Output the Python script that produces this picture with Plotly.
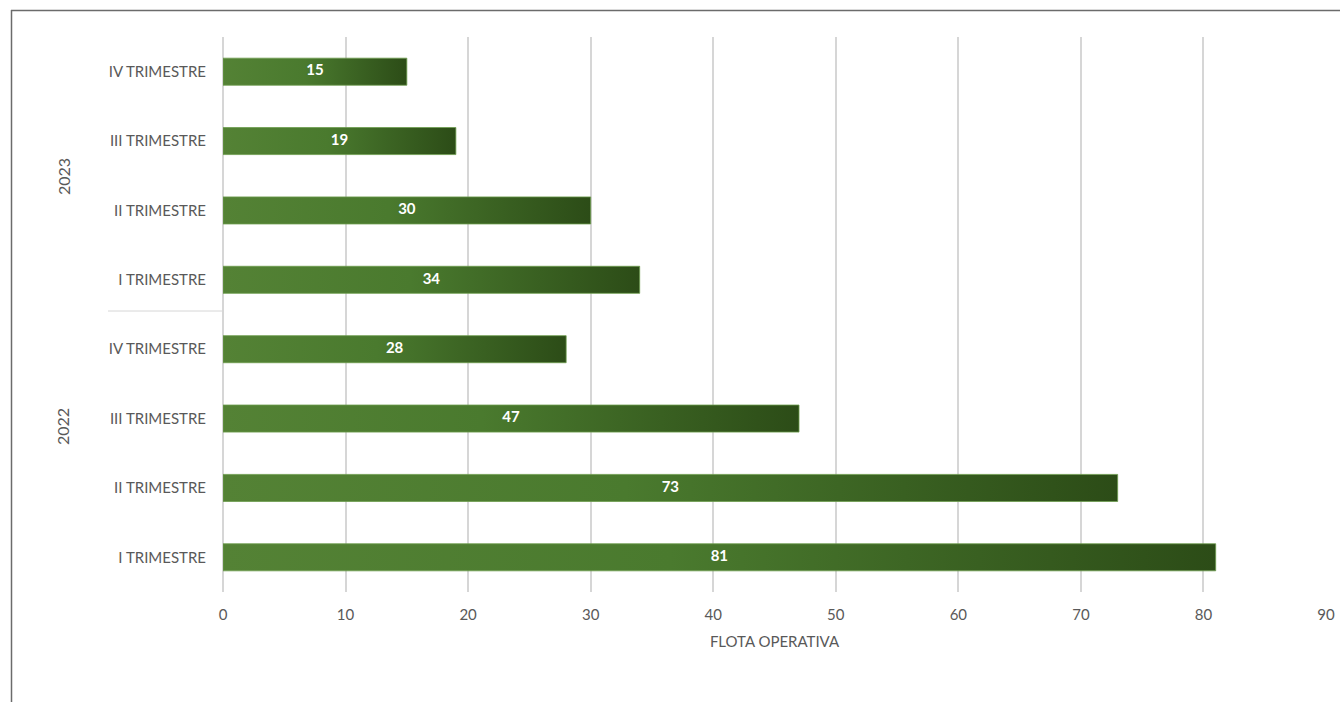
import plotly.graph_objects as go

years = ["2022", "2023"]
quarters = ["I TRIMESTRE", "II TRIMESTRE", "III TRIMESTRE", "IV TRIMESTRE"]
values_2022 = [81, 73, 47, 28]
values_2023 = [34, 30, 19, 15]
x_ticks = [0, 10, 20, 30, 40, 50, 60, 70, 80, 90]
x_title = "FLOTA OPERATIVA"

labels = quarters + quarters
values = values_2022 + values_2023
positions = list(range(len(values)))

FONT = "Lato"
GRAY = "#595959"
half = 0.195

fig = go.Figure()
for pos, v in zip(positions, values):
    fig.add_trace(go.Scatter(
        x=[0, v, v, 0, 0],
        y=[pos - half, pos - half, pos + half, pos + half, pos - half],
        mode="lines",
        fill="toself",
        fillgradient=dict(type="horizontal",
                          colorscale=[[0, "#548235"], [0.45, "#4a7a2e"], [1, "#2c4c17"]]),
        line=dict(color="#6c9c4c", width=0.8),
        hoverinfo="skip",
        showlegend=False,
    ))

fig.add_trace(go.Scatter(
    x=[v / 2 for v in values],
    y=positions,
    mode="text",
    text=[str(v) for v in values],
    textfont=dict(family=FONT, size=15, color="white", weight="bold"),
    hovertext=[f"{l}: {v}" for l, v in zip(labels, values)],
    hoverinfo="text",
    showlegend=False,
))

fig.update_layout(
    width=1340, height=702,
    margin=dict(l=223, r=14, t=37, b=110, autoexpand=False),
    plot_bgcolor="white", paper_bgcolor="white",
    font=dict(family=FONT, size=15, color=GRAY),
    xaxis=dict(range=[0, 90], tickvals=x_ticks, showgrid=True, gridcolor="#d6d6d6",
               gridwidth=1.5, zeroline=True, zerolinecolor="#d6d6d6", zerolinewidth=1.5,
               showline=False, ticks="", ticklabelstandoff=12, automargin=False,
               tickfont=dict(size=15, color=GRAY),
               title=dict(text=x_title, font=dict(size=15, color=GRAY), standoff=14),
               fixedrange=True),
    yaxis=dict(range=[-0.5, 7.5], tickvals=positions, ticktext=labels, showgrid=False,
               zeroline=False, showline=False, ticks="", ticklabelstandoff=16,
               automargin=False, tickfont=dict(size=15, color=GRAY), fixedrange=True),
)

# year group labels
for yr, ypx in [(years[1], 177), (years[0], 427)]:
    fig.add_annotation(text=yr, xref="paper", yref="paper", x=(63 - 223) / 1103,
                       y=(592 - ypx) / 555, xanchor="center", yanchor="middle",
                       showarrow=False, textangle=-90,
                       font=dict(family=FONT, size=16, color=GRAY))
# group divider
fig.add_shape(type="line", xref="paper", yref="paper", x0=(108 - 223) / 1103, x1=0,
              y0=(592 - 311) / 555, y1=(592 - 311) / 555,
              line=dict(color="#d6d6d6", width=1))
# outer chart frame (top and left)
fig.add_shape(type="line", xref="paper", yref="paper", x0=(11 - 223) / 1103, x1=1.03,
              y0=(592 - 10.5) / 555, y1=(592 - 10.5) / 555,
              line=dict(color="#6b6b6b", width=1.5))
fig.add_shape(type="line", xref="paper", yref="paper", x0=(11.5 - 223) / 1103,
              x1=(11.5 - 223) / 1103, y0=(592 - 10) / 555, y1=-0.25,
              line=dict(color="#6b6b6b", width=1.5))

fig.write_html("out.html", config={"displayModeBar": False},
               post_script="document.body.style.margin='0';document.body.style.overflow='hidden';")
